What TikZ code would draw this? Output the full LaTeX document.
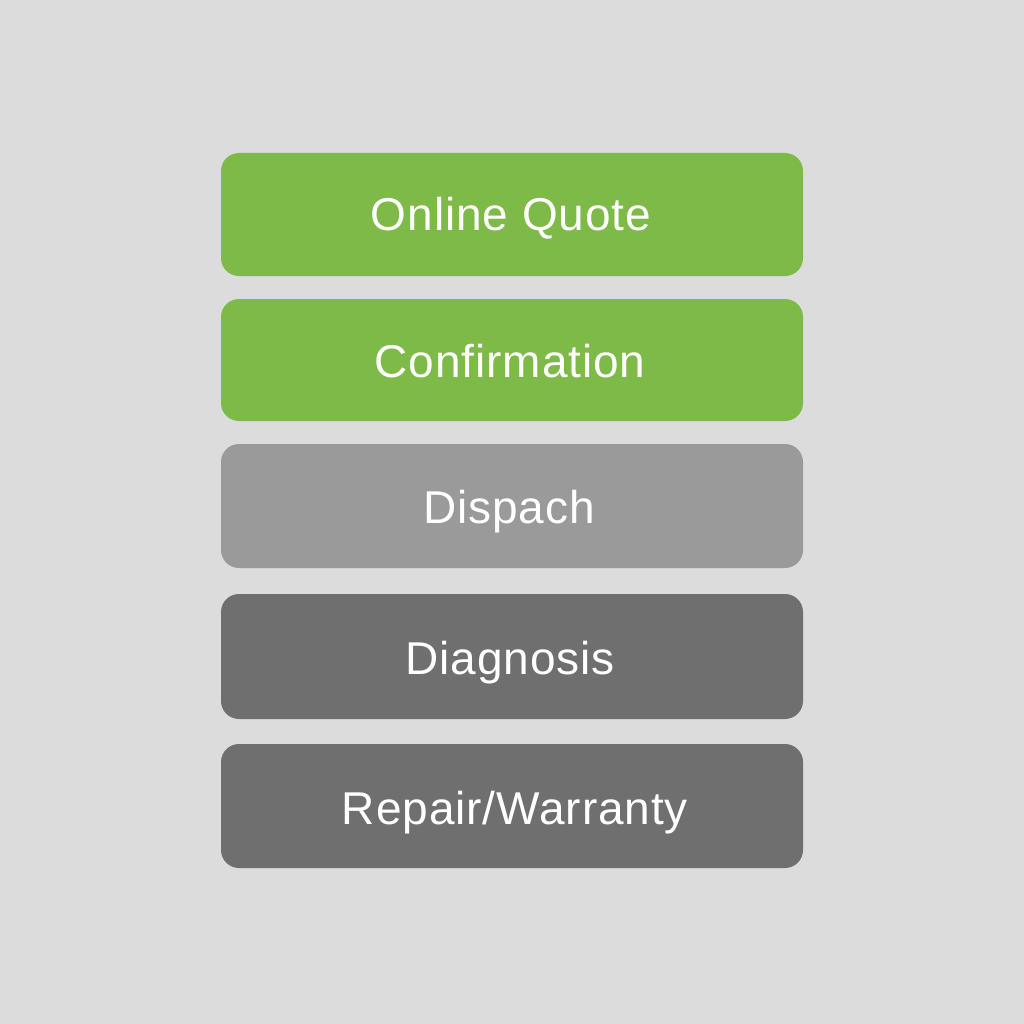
\documentclass[tikz,border=0pt]{standalone}
\usepackage{fontspec}
\setmainfont{Liberation Sans}[LetterSpace=2]
\definecolor{bg}{HTML}{DCDCDC}
\definecolor{grn}{HTML}{7DBA48}
\definecolor{lgray}{HTML}{9A9A9A}
\definecolor{dgray}{HTML}{6F6F6F}
\begin{document}
\begin{tikzpicture}[x=1pt,y=-1pt,
  lbl/.style={text=white,anchor=base,inner sep=0pt,font=\fontsize{46}{54}\selectfont}]
\fill[bg] (0,0) rectangle (1024,1024);
\useasboundingbox (0,0) rectangle (1024,1024);
\fill[grn,rounded corners=18pt] (221,153) rectangle (803,276);
\node[lbl] (a) at (511,231) {Online Quote};
\fill[grn,rounded corners=18pt] (221,299) rectangle (803,421);
\node[lbl] (b) at (510,377) {Confirmation};
\fill[lgray,rounded corners=18pt] (221,444) rectangle (803,568);
\node[lbl] (c) at (509,523) {Dispach};
\fill[dgray,rounded corners=18pt] (221,594) rectangle (803,719);
\node[lbl] (d) at (510,674) {Diagnosis};
\fill[dgray,rounded corners=18pt] (221,744) rectangle (803,868);
\node[lbl] (e) at (515,824) {Repair/Warranty};
\end{tikzpicture}
\end{document}
